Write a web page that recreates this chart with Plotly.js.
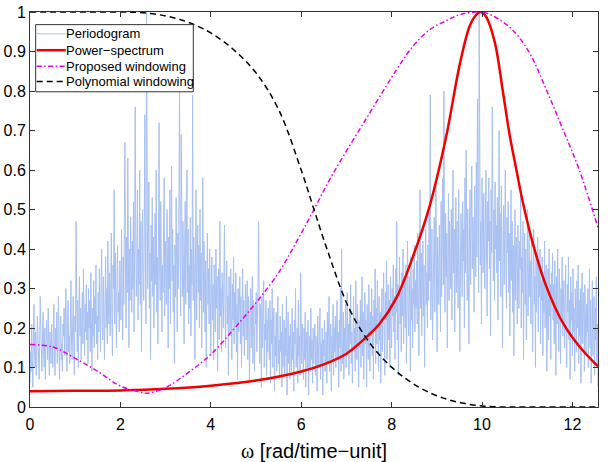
<!DOCTYPE html>
<html><head><meta charset="utf-8">
<script src="https://cdn.plot.ly/plotly-3.0.1.min.js"></script>
<style>html,body{margin:0;padding:0;background:#fff;}#plot{width:608px;height:462px;}</style>
</head><body><div id="plot"></div>
<script>
// Periodogram values (hand-read, evenly spaced over [0, 4π])
const periodogram = [
0.06,0.14,0.09,0.21,0.12,0.05,0.17,0.26,0.15,0.1,0.19,0.08,0.13,0.23,0.18,0.11,0.07,0.16,0.28,0.2,
0.13,0.09,0.18,0.24,0.14,0.1,0.2,0.07,0.15,0.22,0.17,0.12,0.25,0.16,0.08,0.19,0.14,0.11,0.21,0.15,
0.1,0.18,0.26,0.13,0.08,0.2,0.15,0.24,0.11,0.17,0.28,0.14,0.07,0.19,0.23,0.12,0.16,0.09,0.21,0.18,
0.25,0.13,0.19,0.3,0.16,0.09,0.22,0.27,0.14,0.18,0.11,0.24,0.32,0.17,0.12,0.2,0.28,0.15,0.08,0.23,
0.19,0.47,0.21,0.14,0.27,0.1,0.23,0.33,0.18,0.25,0.12,0.2,0.29,0.16,0.35,0.22,0.13,0.26,0.19,0.31,
0.17,0.24,0.11,0.3,0.2,0.27,0.14,0.34,0.22,0.09,0.25,0.18,0.32,0.15,0.28,0.21,0.36,0.16,0.23,0.12,
0.29,0.19,0.35,0.24,0.14,0.31,0.4,0.22,0.17,0.33,0.26,0.12,0.28,0.38,0.2,0.3,0.16,0.42,0.25,0.21,
0.34,0.18,0.27,0.44,0.23,0.13,0.36,0.3,0.55,0.21,0.39,0.26,0.15,0.33,0.41,0.24,0.29,0.19,0.37,0.28,
0.22,0.45,0.31,0.17,0.38,0.26,0.5,0.67,0.35,0.2,0.43,0.29,0.63,0.33,0.15,0.4,0.27,0.48,0.36,0.24,
0.42,0.3,0.52,0.19,0.37,0.76,0.45,0.28,0.34,0.55,0.22,0.4,0.31,0.6,0.26,0.47,0.14,0.38,0.5,0.33,
0.27,0.44,0.74,0.36,0.21,1.0,0.48,0.3,0.41,0.57,0.25,0.39,0.12,0.46,0.32,0.53,0.28,0.43,0.2,0.35,
0.49,0.31,0.6,0.24,0.38,0.16,0.45,0.72,0.34,0.27,0.52,0.4,0.19,0.36,0.29,0.47,0.58,0.23,0.42,0.33,
0.26,0.5,0.37,0.15,0.43,0.3,0.55,0.21,0.39,0.61,0.32,0.45,0.24,0.36,0.11,0.41,0.28,0.53,0.35,0.19,
0.44,0.3,0.54,0.8,0.38,0.23,0.69,0.42,0.28,0.47,0.35,0.16,0.4,0.52,0.26,0.37,0.6,0.29,0.45,0.21,
0.36,0.25,0.48,0.18,0.4,0.31,0.79,0.27,0.43,0.35,0.12,0.38,0.55,0.22,0.33,0.46,0.29,0.41,0.2,0.5,
0.27,0.39,0.15,0.34,0.58,0.24,0.42,0.3,0.19,0.37,0.1,0.32,0.44,0.26,0.35,0.21,0.4,0.28,0.13,0.33,
0.38,0.22,0.31,0.12,0.36,0.27,0.19,0.4,0.25,0.33,0.09,0.29,0.35,0.17,0.47,0.23,0.3,0.14,0.34,0.26,
0.2,0.32,0.46,0.24,0.15,0.3,0.37,0.21,0.28,0.08,0.33,0.25,0.18,0.35,0.27,0.12,0.31,0.22,0.38,0.16,
0.29,0.21,0.34,0.14,0.26,0.07,0.3,0.19,0.24,0.33,0.16,0.28,0.1,0.23,0.35,0.18,0.27,0.13,0.22,0.31,
0.17,0.25,0.32,0.12,0.28,0.2,0.06,0.24,0.3,0.15,0.22,0.33,0.11,0.27,0.19,0.09,0.26,0.21,0.29,0.14,
0.23,0.3,0.47,0.18,0.11,0.26,0.2,0.05,0.28,0.15,0.24,0.32,0.1,0.21,0.17,0.27,0.08,0.22,0.14,0.25,
0.19,0.12,0.27,0.06,0.22,0.16,0.3,0.1,0.2,0.25,0.04,0.18,0.13,0.24,0.09,0.21,0.28,0.11,0.17,0.07,
0.23,0.14,0.19,0.05,0.26,0.1,0.17,0.22,0.08,0.2,0.13,0.28,0.03,0.16,0.24,0.11,0.18,0.07,0.21,0.15,
0.09,0.25,0.12,0.19,0.04,0.22,0.16,0.3,0.1,0.14,0.2,0.06,0.27,0.13,0.18,0.08,0.34,0.15,0.11,0.21,
0.16,0.07,0.2,0.12,0.24,0.05,0.15,0.19,0.1,0.22,0.03,0.14,0.18,0.09,0.25,0.12,0.17,0.06,0.2,0.11,
0.15,0.21,0.08,0.18,0.12,0.04,0.23,0.14,0.1,0.19,0.25,0.07,0.16,0.11,0.2,0.03,0.17,0.13,0.22,0.09,
0.14,0.19,0.06,0.24,0.11,0.17,0.28,0.09,0.15,0.21,0.04,0.18,0.12,0.26,0.08,0.2,0.14,0.23,0.1,0.16,
0.27,0.12,0.19,0.05,0.22,0.15,0.3,0.09,0.4,0.17,0.11,0.24,0.07,0.2,0.14,0.26,0.1,0.18,0.29,0.13,
0.21,0.08,0.25,0.16,0.31,0.11,0.19,0.06,0.23,0.28,0.14,0.2,0.09,0.32,0.17,0.12,0.26,0.18,0.05,0.22,
0.15,0.27,0.1,0.21,0.33,0.13,0.24,0.07,0.18,0.29,0.16,0.22,0.05,0.26,0.19,0.12,0.31,0.2,0.09,0.24,
0.18,0.3,0.13,0.23,0.07,0.27,0.2,0.35,0.11,0.25,0.16,0.32,0.22,0.09,0.28,0.17,0.24,0.06,0.21,0.3,
0.14,0.26,0.34,0.19,0.08,0.29,0.22,0.37,0.12,0.24,0.31,0.17,0.27,0.1,0.33,0.2,0.15,0.3,0.23,0.36,
0.19,0.28,0.12,0.35,0.24,0.47,0.17,0.31,0.08,0.26,0.38,0.21,0.29,0.14,0.34,0.23,0.4,0.16,0.27,0.32,
0.2,0.36,0.11,0.29,0.42,0.24,0.18,0.33,0.27,0.09,0.38,0.22,0.3,0.15,0.35,0.26,0.41,0.19,0.32,0.25,
0.37,0.21,0.44,0.28,0.13,0.33,0.55,0.25,0.39,0.18,0.31,0.42,0.23,0.36,0.1,0.29,0.45,0.26,0.34,0.2,
0.41,0.27,0.5,0.32,0.79,0.22,0.38,0.45,0.17,0.35,0.29,0.48,0.24,0.4,0.56,0.3,0.14,0.43,0.33,0.26,
0.46,0.35,0.19,0.52,0.28,0.41,0.58,0.31,0.8,0.37,0.24,0.49,0.33,0.44,0.15,0.39,0.54,0.27,0.47,0.36,
0.3,0.5,0.22,0.43,0.6,0.34,0.45,0.19,0.38,0.53,0.29,0.47,0.36,0.25,0.55,0.41,0.14,0.33,0.49,0.4,
0.28,0.52,0.37,0.45,0.2,0.58,0.34,0.65,0.43,0.27,0.5,0.39,0.16,0.46,0.55,0.31,0.42,0.61,0.35,0.48,
0.4,0.24,0.56,0.44,0.33,0.62,0.38,0.78,0.5,0.29,1.0,0.52,0.36,0.47,0.21,0.58,0.41,0.34,0.54,0.45,
0.3,0.49,0.6,0.37,0.23,0.52,0.42,0.58,0.35,0.47,0.18,0.55,0.39,0.76,0.44,0.32,0.5,0.27,0.57,0.4,
0.46,0.34,0.53,0.22,0.41,0.7,0.37,0.49,0.28,0.56,0.43,0.15,0.38,0.51,0.31,0.45,0.6,0.35,0.25,0.48,
0.39,0.52,0.29,0.44,0.18,0.36,0.55,0.32,0.47,0.24,0.41,0.13,0.34,0.5,0.27,0.43,0.37,0.21,0.46,0.31,
0.25,0.42,0.35,0.55,0.2,0.38,0.29,0.47,0.12,0.33,0.44,0.26,0.4,0.17,0.36,0.5,0.23,0.31,0.45,0.28,
0.37,0.21,0.42,0.3,0.14,0.35,0.45,0.26,0.33,0.1,0.39,0.24,0.31,0.43,0.19,0.36,0.28,0.4,0.16,0.32,
0.27,0.38,0.13,0.33,0.24,0.42,0.2,0.3,0.36,0.09,0.28,0.35,0.17,0.4,0.23,0.31,0.12,0.34,0.26,0.39,
0.22,0.31,0.16,0.37,0.27,0.08,0.33,0.21,0.4,0.25,0.14,0.35,0.29,0.11,0.3,0.23,0.38,0.18,0.26,0.32,
0.15,0.28,0.36,0.2,0.1,0.31,0.24,0.38,0.17,0.27,0.07,0.33,0.22,0.29,0.13,0.35,0.19,0.25,0.09,0.3,
0.24,0.14,0.32,0.2,0.36,0.11,0.27,0.18,0.3,0.06,0.25,0.34,0.16,0.23,0.29,0.09,0.31,0.21,0.13,0.26,
0.19,0.3,0.1,0.24,0.35,0.15,0.27,0.06,0.22,0.32,0.13,0.2,0.28,0.08,0.25,0.17,0.33,0.11,0.21,0.05
];

const psX = [0,1,2,3,4,5,6,6.5,7,7.47,7.73,8.10,8.47,8.84,9.21,9.50,9.72,9.85,9.96,10.08,10.28,10.46,10.61,10.76,10.90,11.12,11.42,11.79,12.15,12.566];
const psY = [0.040,0.041,0.042,0.046,0.054,0.067,0.090,0.108,0.135,0.18,0.21,0.275,0.38,0.508,0.686,0.863,0.962,0.99,1.0,0.99,0.925,0.80,0.69,0.601,0.52,0.416,0.306,0.213,0.154,0.103];

const propX = [0,0.5,1,1.5,2,2.5,2.6,3,3.5,4,4.5,5,5.5,6,6.26,6.7,7.44,8.10,8.47,8.84,9.21,9.5,9.98,10.31,10.68,11.05,11.42,11.79,12.15,12.566];
const propY = [0.158,0.152,0.123,0.09,0.053,0.036,0.035,0.049,0.087,0.133,0.196,0.264,0.34,0.44,0.495,0.59,0.73,0.852,0.913,0.955,0.978,0.993,1.0,0.986,0.954,0.897,0.804,0.703,0.601,0.454];

const polyX = [0,1,2,2.5,3,3.5,4,4.5,5,5.5,6,6.283,6.57,7.07,7.57,8.06,8.56,9.06,9.56,10.06,10.5,11,12,12.566];
const polyY = [1,1,1,0.998,0.99,0.974,0.947,0.905,0.846,0.753,0.60,0.5,0.40,0.247,0.154,0.095,0.053,0.026,0.01,0.002,0,0,0,0];

const xTicks = [0,2,4,6,8,10,12];
const yTicks = [0,0.1,0.2,0.3,0.4,0.5,0.6,0.7,0.8,0.9,1];
const yTickText = ['0','0.1','0.2','0.3','0.4','0.5','0.6','0.7','0.8','0.9','1'];
const seriesNames = ['Periodogram','Power−spectrum','Proposed windowing','Polynomial windowing'];

const N = periodogram.length;
const xMax = 4*Math.PI;
const pX = periodogram.map((_, i) => i * xMax / (N - 1));

const styles = [
  {color: 'rgb(168,192,242)', width: 1},
  {color: 'rgb(240,0,0)', width: 2.5, shape: 'spline', smoothing: 1},
  {color: 'rgb(230,0,230)', width: 1.5, dash: '5px,2.5px,1.5px,2.5px', shape: 'spline', smoothing: 1},
  {color: 'black', width: 1.5, dash: '6px,4px', shape: 'spline', smoothing: 1}
];
const xs = [pX, psX, propX, polyX];
const ys = [periodogram, psY, propY, polyY];

const traces = seriesNames.map((nm, i) => ({
  x: xs[i], y: ys[i], type: 'scatter', mode: 'lines', name: nm,
  line: styles[i], showlegend: false, hoverinfo: 'skip'
}));

// Hand-built MATLAB-style legend (box, samples, labels) in paper coordinates
const legX0 = 0.010, legX1 = 0.2875, legY0 = 0.798, legY1 = 0.968;
const rowY = [0.9448, 0.9033, 0.8628, 0.8241];
const sampX0 = 0.0118, sampX1 = 0.0629, textX = 0.0615;
const shapes = [{type: 'rect', xref: 'paper', yref: 'paper', x0: legX0, x1: legX1, y0: legY0, y1: legY1,
  line: {color: '#333', width: 1}, fillcolor: '#fff', layer: 'above'}];
const annotations = [];
seriesNames.forEach((nm, i) => {
  const st = styles[i];
  shapes.push({type: 'line', xref: 'paper', yref: 'paper', x0: sampX0, x1: sampX1, y0: rowY[i], y1: rowY[i],
    line: {color: st.color, width: st.width, dash: st.dash || 'solid'}, layer: 'above'});
  annotations.push({xref: 'paper', yref: 'paper', x: textX, y: rowY[i], xanchor: 'left', yanchor: 'middle',
    text: nm, showarrow: false, borderpad: 0,
    font: {family: 'Arial, Liberation Sans, sans-serif', size: 13, color: '#000'}});
});

const axisCommon = {
  showline: true, linecolor: '#333', linewidth: 1, mirror: 'ticks',
  ticks: 'inside', ticklen: 5, tickcolor: '#333', showgrid: false, zeroline: false,
  tickfont: {family: 'Arial, Liberation Sans, sans-serif', size: 16, color: '#000'}
};

const layout = {
  width: 608, height: 462,
  margin: {l: 30, r: 10, t: 12, b: 55},
  paper_bgcolor: '#fff', plot_bgcolor: '#fff',
  showlegend: false,
  shapes: shapes, annotations: annotations,
  xaxis: Object.assign({}, axisCommon, {range: [0, xMax], tickvals: xTicks, ticktext: xTicks.map(String),
    ticklabelstandoff: 3,
    title: {text: '<span style="font-family:Liberation Serif">ω</span> [rad/time−unit]',
      font: {family: 'Arial, Liberation Sans, sans-serif', size: 20, color: '#000'}, standoff: 14}}),
  yaxis: Object.assign({}, axisCommon, {range: [0, 1], tickvals: yTicks, ticktext: yTickText})
};

Plotly.newPlot('plot', traces, layout, {displayModeBar: false, staticPlot: true});
</script></body></html>
